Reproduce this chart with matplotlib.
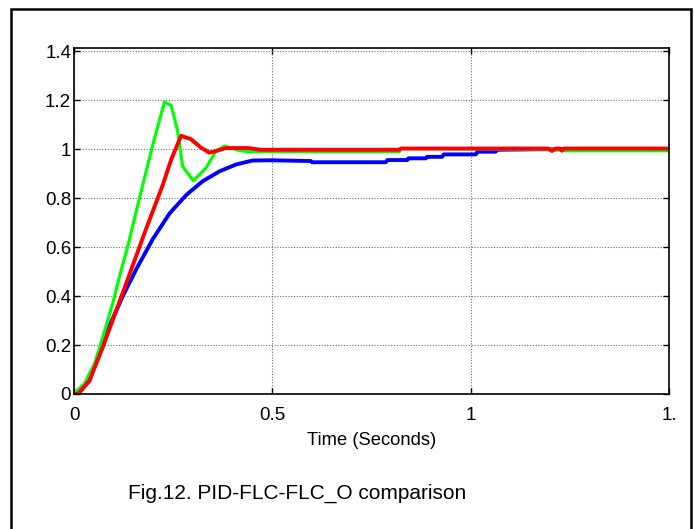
import matplotlib
matplotlib.use("Agg")
import matplotlib.pyplot as plt
from matplotlib.patches import Rectangle

# ---- data ----
t_pid = [0.0, 0.005, 0.026, 0.052, 0.073, 0.098, 0.115, 0.136, 0.165, 0.199, 0.228,
         0.245, 0.261, 0.274, 0.301, 0.333, 0.358, 0.379, 0.417, 0.44, 0.736, 0.82,
         0.824, 1.2, 1.24, 1.5]
y_pid = [0.0, 0.01, 0.041, 0.124, 0.234, 0.372, 0.482, 0.607, 0.80, 1.02, 1.193,
         1.179, 1.076, 0.93, 0.871, 0.924, 0.993, 1.013, 0.995, 0.99, 0.99, 0.99,
         1.003, 1.0, 0.994, 0.994]

t_flc = [0.0, 0.01, 0.039, 0.073, 0.123, 0.182, 0.224, 0.245, 0.27, 0.295, 0.32,
         0.341, 0.358, 0.383, 0.44, 0.47, 0.82, 0.824, 1.195, 1.205, 1.215, 1.225,
         1.23, 1.235, 1.5]
y_flc = [0.0, 0.0, 0.055, 0.193, 0.414, 0.676, 0.855, 0.958, 1.055, 1.041, 1.007,
         0.986, 0.993, 1.005, 1.005, 0.998, 0.998, 1.003, 1.003, 0.993, 1.003, 1.003,
         0.994, 1.003, 1.003]

t_flco = [0.0, 0.01, 0.039, 0.081, 0.123, 0.157, 0.199, 0.241, 0.283, 0.324, 0.367,
          0.409, 0.45, 0.492, 0.597, 0.6, 0.786, 0.79, 0.84, 0.843, 0.887, 0.89,
          0.928, 0.932, 1.013, 1.017, 1.063, 1.067, 1.173, 1.5]
y_flco = [0.0, 0.0, 0.055, 0.248, 0.40, 0.51, 0.634, 0.738, 0.813, 0.869, 0.91,
          0.938, 0.954, 0.955, 0.952, 0.947, 0.947, 0.956, 0.956, 0.963, 0.963, 0.969,
          0.969, 0.979, 0.979, 0.99, 0.99, 0.998, 1.0, 1.0]

x_ticks = [0, 0.5, 1, 1.5]
x_tick_labels = ["0", "0.5", "1", "1."]
y_ticks = [0, 0.2, 0.4, 0.6, 0.8, 1.0, 1.2, 1.4]
y_tick_labels = ["0", "0.2", "0.4", "0.6", "0.8", "1", "1.2", "1.4"]

FONT = ["Liberation Sans Narrow", "DejaVu Sans Condensed", "Liberation Sans", "DejaVu Sans"]
plt.rcParams["font.family"] = FONT

fig = plt.figure(figsize=(6.94, 5.29), dpi=100)
fig.patch.set_facecolor("white")

# outer frame
fig.patches.append(Rectangle((11 / 694, -0.05), (691 - 11) / 694, 1.05 - 9 / 529,
                             transform=fig.transFigure, fill=False,
                             edgecolor="black", linewidth=1.8))

ax = fig.add_axes([74 / 694, 1 - 394 / 529, (669 - 74) / 694, (394 - 47.7) / 529])

ax.plot(t_flco, y_flco, color="#0000ff", linewidth=2.8, solid_joinstyle="round")
ax.plot(t_pid, y_pid, color="#00ff00", linewidth=2.3, solid_joinstyle="round")
ax.plot(t_flc, y_flc, color="#ff0000", linewidth=2.8, solid_joinstyle="round")

ax.set_xlim(0, 1.5)
ax.set_ylim(0, 1.415)
ax.set_xticks(x_ticks)
ax.set_xticklabels(x_tick_labels)
ax.set_yticks(y_ticks)
ax.set_yticklabels(y_tick_labels)
ax.tick_params(direction="in", top=True, right=True, length=4, width=1,
               labelsize=13.5)
ax.tick_params(axis="x", pad=9)
ax.tick_params(axis="y", pad=2)
ax.grid(True, color="#707070", linestyle=(0, (1, 1.5)), linewidth=0.8)
for s in ax.spines.values():
    s.set_linewidth(1.2)

ax.set_xlabel("Time (Seconds)", fontsize=13.2, labelpad=6)

fig.text(128 / 694, 1 - 493 / 529, "Fig.12. PID-FLC-FLC_O comparison",
         fontsize=15, ha="left", va="center")

fig.savefig("out.png", dpi=100)
